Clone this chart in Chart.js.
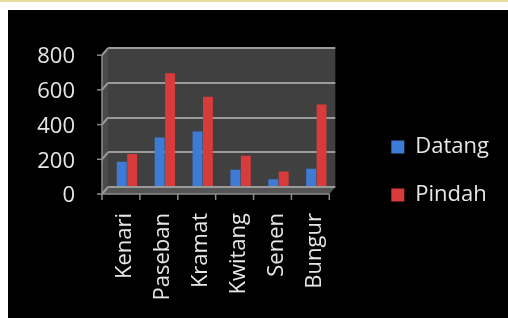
<!DOCTYPE html>
<html>
<head>
<meta charset="utf-8">
<script src="https://cdn.jsdelivr.net/npm/chart.js@4"></script>
<style>
  html, body { margin: 0; padding: 0; background: #fff; }
  body { width: 508px; height: 318px; position: relative; overflow: hidden; }
  #topline { position: absolute; left: 0; top: 0; width: 508px; height: 2px; background: #eadb9f; }
  #box { position: absolute; left: 8px; top: 10px; width: 500px; height: 308px; background: #000; }
</style>
</head>
<body>
<div id="topline"></div>
<div id="box"><canvas id="bars__Chart" width="500" height="308"></canvas></div>
<script>
// chart values
const categories = ['Kenari', 'Paseban', 'Kramat', 'Kwitang', 'Senen', 'Bungur'];
const datang = [145, 285, 320, 100, 45, 105];
const pindah = [190, 655, 520, 180, 90, 475];
const yTicks = [0, 200, 400, 600, 800];

// fake 3D walls + front axis, like the old excel chart
const wallPlugin = {
  id: 'wall',
  beforeDraw(chart) {
    const { ctx, chartArea: a } = chart;
    const dx = 6, dy = 7;
    ctx.save();
    ctx.fillStyle = '#404040';
    ctx.fillRect(a.left, a.top, a.right - a.left, a.bottom - a.top);
    // side wall
    ctx.fillStyle = '#4a4a4a';
    ctx.beginPath();
    ctx.moveTo(a.left - dx, a.top + dy);
    ctx.lineTo(a.left, a.top);
    ctx.lineTo(a.left, a.bottom);
    ctx.lineTo(a.left - dx, a.bottom + dy);
    ctx.closePath();
    ctx.fill();
    // floor
    ctx.fillStyle = '#555555';
    ctx.beginPath();
    ctx.moveTo(a.left - dx, a.bottom + dy);
    ctx.lineTo(a.left, a.bottom);
    ctx.lineTo(a.right, a.bottom);
    ctx.lineTo(a.right - dx, a.bottom + dy);
    ctx.closePath();
    ctx.fill();
    ctx.restore();
  },
  beforeDatasetsDraw(chart) {
    const { ctx, chartArea: a, scales } = chart;
    const dx = 6, dy = 7;
    ctx.save();
    ctx.strokeStyle = '#9a9a9a';
    ctx.lineWidth = 2;
    yTicks.forEach(v => {
      const y = scales.y.getPixelForValue(v);
      ctx.beginPath();
      ctx.moveTo(a.left - dx, y + dy);
      ctx.lineTo(a.left, y);
      ctx.stroke();
    });
    ctx.strokeStyle = '#8c8c8c';
    ctx.lineWidth = 1.5;
    ctx.beginPath();
    ctx.moveTo(a.left - dx, a.top + dy);
    ctx.lineTo(a.left - dx, a.bottom + dy);
    ctx.lineTo(a.right - dx, a.bottom + dy);
    ctx.stroke();
    yTicks.forEach(v => {
      const y = scales.y.getPixelForValue(v) + dy;
      ctx.beginPath();
      ctx.moveTo(a.left - dx - 5, y);
      ctx.lineTo(a.left - dx, y);
      ctx.stroke();
    });
    const n = categories.length;
    for (let i = 0; i <= n; i++) {
      const x = a.left - dx + i * (a.right - a.left) / n;
      ctx.beginPath();
      ctx.moveTo(x, a.bottom + dy);
      ctx.lineTo(x, a.bottom + dy + 6);
      ctx.stroke();
    }
    ctx.restore();
  }
};

Chart.defaults.font.family = '"Open Sans", sans-serif';
Chart.defaults.color = '#e6e6e6';

const ctx = document.getElementById('bars__Chart').getContext('2d');
const barsChart = new Chart(ctx, {
  type: 'bar',
  data: {
    labels: categories,
    datasets: [
      {
        label: 'Datang',
        data: datang,
        backgroundColor: '#3d7bd6',
        categoryPercentage: 0.55,
        barPercentage: 0.95,
      },
      {
        label: 'Pindah',
        data: pindah,
        backgroundColor: '#d83b3b',
        categoryPercentage: 0.55,
        barPercentage: 0.95,
      }
    ]
  },
  options: {
    responsive: false,
    animation: false,
    layout: { padding: { top: 14, bottom: 0, left: 0, right: 9 } },
    scales: {
      x: {
        grid: { display: false },
        border: { display: false },
        ticks: {
          font: { size: 22 },
          maxRotation: 90,
          minRotation: 90,
          padding: 18,
          labelOffset: -2,
        },
        afterFit: s => { s.height = 131; }
      },
      y: {
        min: 0,
        max: 800,
        grid: { color: '#9a9a9a', lineWidth: 2, drawTicks: true, tickLength: 8, tickColor: 'rgba(0,0,0,0)' },
        border: { display: false },
        ticks: {
          stepSize: 200,
          font: { size: 22 },
          padding: 25,
          labelOffset: 9,
        },
        afterFit: s => { s.width = 100; }
      },
      gap: {
        position: 'right',
        grid: { display: false },
        border: { display: false },
        ticks: { display: false },
        afterFit: s => { s.width = 30; }
      }
    },
    plugins: {
      legend: {
        position: 'right',
        maxWidth: 200,
        labels: {
          font: { size: 22 },
          boxWidth: 13,
          boxHeight: 13,
          padding: 26,
        }
      },
      tooltip: { enabled: false }
    }
  },
  plugins: [wallPlugin]
});
</script>
</body>
</html>
